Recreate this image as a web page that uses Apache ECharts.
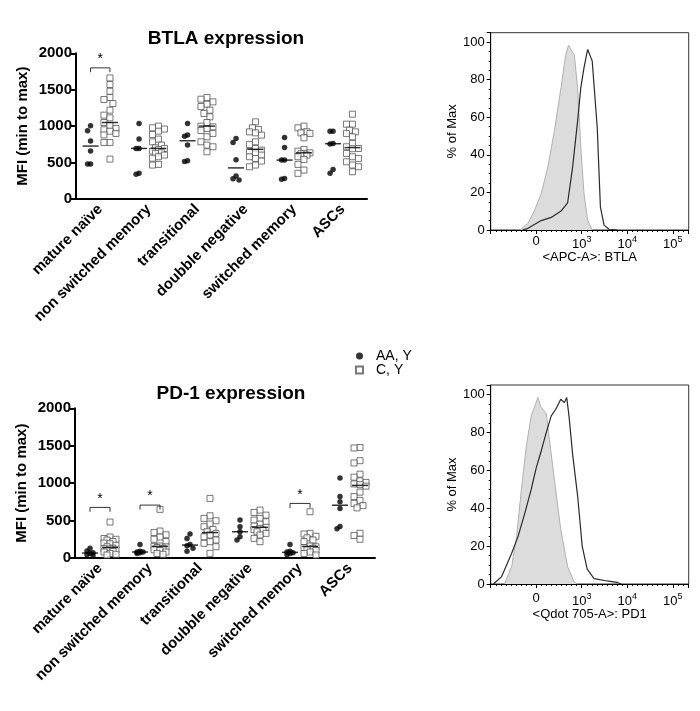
<!DOCTYPE html>
<html lang="en">
<head>
    <meta charset="UTF-8">
    <title>BTLA / PD-1 expression</title>
    <script src="https://cdn.jsdelivr.net/npm/echarts@6/dist/echarts.min.js"></script>
    <style>
        html, body { margin: 0; padding: 0; background: #fff; }
        #main { width: 700px; height: 711px; }
    </style>
</head>
<body>
<div id="main"></div>
<script>
    // categories on both scatter plots
    const categories = ['mature naïve', 'non switched memory', 'transitional', 'doubble negative', 'switched memory', 'ASCs'];

    // BTLA MFI, one list per category
    const btlaAA = [
        [1004, 936, 795, 658, 479, 479],
        [1037, 822, 694, 694, 352, 340],
        [1037, 877, 860, 740, 525, 515],
        [831, 776, 539, 315, 278, 260],
        [845, 708, 534, 534, 283, 270],
        [931, 931, 763, 755, 406, 352]
    ];
    const btlaC = [
        [1662, 1571, 1479, 1393, 1365, 1311, 1219, 1151, 1114, 1050, 1009, 968, 950, 931, 900, 880, 776, 776, 548],
        [1000, 977, 960, 931, 886, 822, 785, 740, 703, 694, 680, 658, 635, 626, 603, 580, 560, 475, 466],
        [1393, 1370, 1333, 1301, 1269, 1219, 1174, 1128, 1050, 1000, 990, 968, 940, 900, 854, 785, 740, 717, 648],
        [1059, 977, 955, 922, 908, 877, 785, 749, 694, 671, 650, 634, 603, 580, 557, 521, 466, 443],
        [1000, 977, 922, 908, 900, 840, 680, 657, 634, 626, 620, 603, 580, 543, 475, 397, 352],
        [1164, 1027, 1027, 945, 922, 900, 854, 763, 717, 694, 690, 626, 580, 557, 511, 466, 443, 374]
    ];

    // PD-1 MFI
    const pd1AA = [
        [130, 95, 70, 62, 45, 30],
        [180, 90, 80, 80, 70, 60],
        [320, 260, 180, 165, 130, 90],
        [507, 418, 351, 284, 240],
        [180, 90, 80, 70, 60, 45],
        [1070, 820, 750, 660, 420, 390]
    ];
    const pd1C = [
        [480, 280, 260, 250, 240, 220, 200, 190, 170, 150, 130, 125, 120, 110, 100, 90, 80, 60, 50, 40],
        [650, 360, 340, 310, 280, 250, 220, 160, 155, 150, 140, 130, 110, 100, 80, 60, 50],
        [796, 564, 529, 498, 453, 418, 382, 351, 329, 307, 284, 240, 218, 196, 151, 62],
        [640, 609, 573, 529, 507, 484, 453, 427, 410, 396, 380, 373, 351, 329, 307, 262, 218],
        [618, 329, 320, 290, 270, 240, 220, 160, 150, 140, 130, 110, 100, 80, 60, 40],
        [1476, 1470, 1300, 1270, 1120, 1080, 1030, 1010, 990, 980, 960, 880, 820, 770, 730, 700, 670, 330, 300, 250]
    ];

    // significance brackets (category index, bracket height)
    const btlaSig = [{cat: 0, y: 1800}];
    const pd1Sig = [{cat: 0, y: 676}, {cat: 1, y: 707}, {cat: 4, y: 729}];

    // histograms: x in decades (0 -> "0", 1 -> 10^3, 2 -> 10^4, 3 -> 10^5), y in % of max
    const histTicks = {0: '0', 1: '10{s|3}', 2: '10{s|4}', 3: '10{s|5}'};
    const btlaIso = [[-0.36, 0], [-0.18, 3.5], [-0.035, 10.6], [0.11, 19.4], [0.255, 33.5], [0.4, 52.9], [0.545, 75.8],
        [0.65, 93.5], [0.71, 98.4], [0.78, 95.2], [0.835, 93.5], [0.91, 75.8], [0.98, 44], [1.05, 19.4], [1.13, 5.3], [1.23, 0]];
    const btlaStain = [[-0.3, 0], [-0.18, 0.9], [0.11, 5], [0.33, 6.7], [0.545, 10.1], [0.69, 14.5], [0.8, 33.5], [0.91, 58.2],
        [0.98, 75.8], [1.05, 86.4], [1.13, 96.1], [1.16, 97], [1.23, 90], [1.34, 54.7], [1.41, 12.3], [1.49, 2.6], [1.6, 0.4], [1.78, 0]];
    const pd1Iso = [[-0.7, 0], [-0.54, 9.2], [-0.43, 25.2], [-0.326, 49.9], [-0.217, 72.8], [-0.11, 88.7], [0.036, 98.4],
        [0.11, 93], [0.22, 90.2], [0.29, 76.2], [0.4, 55], [0.54, 28.6], [0.69, 9.2], [0.83, 1.2], [0.91, 0]];
    const pd1Stain = [[-0.94, 0], [-0.76, 3.9], [-0.65, 10], [-0.54, 16.2], [-0.4, 25], [-0.25, 37.4], [-0.11, 49.9], [0, 61.3],
        [0.11, 70.2], [0.22, 79.9], [0.33, 88.7], [0.43, 92.2], [0.54, 97.5], [0.62, 95.7], [0.67, 98.4], [0.72, 88.7],
        [0.8, 68.4], [0.91, 46.4], [1.01, 20], [1.12, 7.8], [1.27, 2.8], [1.56, 1.6], [1.77, 0.9], [1.87, 0]];

    const FONT = 'Liberation Sans, Arial, sans-serif';

    function median(arr) {
        const s = arr.slice().sort((a, b) => a - b);
        const m = Math.floor(s.length / 2);
        return s.length % 2 ? s[m] : (s[m - 1] + s[m]) / 2;
    }

    // spread overlapping points sideways inside a narrow band, returns [x, y] pairs
    function swarm(groups, side, pxCat, pxVal, size, maxOff) {
        const out = [];
        const cands = [0];
        for (let k = 1; k * 3 <= maxOff; k++) { cands.push(-k * 3, k * 3); }
        groups.forEach((vals, ci) => {
            const placed = [];
            vals.forEach(v => {
                const py = v * pxVal;
                let best = 0, bestGap = -1;
                for (const c of cands) {
                    const gap = placed.reduce((m, p) => Math.min(m, Math.hypot(p[0] - c, p[1] - py)), 1e9);
                    if (gap >= size) { best = c; bestGap = 1e9; break; }
                    if (gap > bestGap) { bestGap = gap; best = c; }
                }
                placed.push([best, py]);
                out.push([ci + side + best / pxCat, v]);
            });
        });
        return out;
    }

    function scatterSeries(aa, c, sig, xi, yi, pxCat, pxVal) {
        const s = [];
        s.push({
            name: 'AA, Y', type: 'scatter', xAxisIndex: xi, yAxisIndex: yi, symbol: 'circle', symbolSize: 5.5,
            itemStyle: {color: '#000'}, data: swarm(aa, -0.2, pxCat, pxVal, 5, 3), z: 3
        });
        s.push({
            name: 'C, Y', type: 'scatter', xAxisIndex: xi, yAxisIndex: yi, symbol: 'rect', symbolSize: 6,
            itemStyle: {color: '#fff', borderColor: '#555', borderWidth: 1}, data: swarm(c, 0.2, pxCat, pxVal, 6, 6), z: 3
        });
        s.push({
            type: 'scatter', xAxisIndex: xi, yAxisIndex: yi, symbol: 'rect', symbolSize: [16, 1.5], silent: true,
            itemStyle: {color: '#000'}, z: 4,
            data: aa.map((v, i) => [i - 0.2, median(v)]).concat(c.map((v, i) => [i + 0.2, median(v)]))
        });
        // brackets with an asterisk on top
        sig.forEach(b => {
            const drop = 60;
            s.push({
                type: 'line', xAxisIndex: xi, yAxisIndex: yi, symbol: 'none', silent: true, z: 6,
                lineStyle: {color: '#333', width: 1},
                data: [[b.cat - 0.2, b.y - drop], [b.cat - 0.2, b.y], [b.cat + 0.2, b.y], [b.cat + 0.2, b.y - drop]],
                markPoint: {
                    silent: true, symbol: 'circle', symbolSize: 1, itemStyle: {color: 'rgba(0,0,0,0)'},
                    label: {show: true, position: 'top', distance: 1, formatter: '*', fontSize: 14, color: '#000', fontFamily: FONT},
                    data: [{coord: [b.cat, b.y]}]
                }
            });
        });
        return s;
    }

    function histSeries(iso, stain, xi, yi) {
        return [{
            type: 'line', xAxisIndex: xi, yAxisIndex: yi, symbol: 'none', silent: true,
            lineStyle: {color: '#b0b0b0', width: 1}, areaStyle: {color: '#dcdcdc', opacity: 1}, data: iso
        }, {
            type: 'line', xAxisIndex: xi, yAxisIndex: yi, symbol: 'none', silent: true,
            lineStyle: {color: '#2a2a2a', width: 1.2}, data: stain
        }];
    }

    function catAxis(gi) {
        return {
            type: 'category', gridIndex: gi, data: categories, boundaryGap: true,
            axisLine: {onZero: false, lineStyle: {color: '#000', width: 2}},
            axisTick: {alignWithLabel: true, length: 5, lineStyle: {width: 2, color: '#000'}},
            axisLabel: {rotate: 45, margin: 8, color: '#000', fontSize: 15, fontWeight: 'bold', fontFamily: FONT}
        };
    }
    function hiddenX(gi) {
        return {type: 'value', gridIndex: gi, min: -0.5, max: 5.5, show: false, axisLine: {onZero: false}};
    }
    function mfiAxis(gi) {
        return {
            type: 'value', gridIndex: gi, min: 0, max: 2000, interval: 500,
            name: 'MFI (min to max)', nameLocation: 'middle', nameGap: 46,
            nameTextStyle: {color: '#000', fontSize: 15, fontWeight: 'bold', fontFamily: FONT},
            splitLine: {show: false},
            axisLine: {show: true, onZero: false, lineStyle: {color: '#000', width: 2}},
            axisTick: {show: true, length: 5, lineStyle: {width: 2, color: '#000'}},
            axisLabel: {margin: 4, color: '#000', fontSize: 15, fontWeight: 'bold', fontFamily: FONT, formatter: v => String(v)}
        };
    }
    function histX(gi, name, gap, margin) {
        return {
            type: 'value', gridIndex: gi, min: -1, max: 3.35, interval: 1,
            name: name, nameLocation: 'middle', nameGap: gap,
            nameTextStyle: {color: '#000', fontSize: 13, fontFamily: FONT},
            splitLine: {show: false},
            axisLine: {onZero: false, lineStyle: {color: '#000', width: 1}},
            axisTick: {length: 4, lineStyle: {color: '#000'}},
            minorTick: {show: true, splitNumber: 9, length: 2, lineStyle: {color: '#000'}},
            axisLabel: {
                margin: margin, color: '#000', fontSize: 13, fontFamily: FONT,
                formatter: v => histTicks[v] || '',
                rich: {s: {fontSize: 9, verticalAlign: 'top', padding: [0, 0, 9, 0], fontFamily: FONT, color: '#000'}}
            }
        };
    }
    function histY(gi) {
        return {
            type: 'value', gridIndex: gi, min: 0, max: 105, interval: 20,
            name: '% of Max', nameLocation: 'middle', nameGap: 30,
            nameTextStyle: {color: '#000', fontSize: 13, fontFamily: FONT},
            splitLine: {show: false},
            axisLine: {show: true, onZero: false, lineStyle: {color: '#000', width: 1}},
            axisTick: {show: true, length: 4, lineStyle: {color: '#000'}},
            minorTick: {show: true, splitNumber: 4, length: 2, lineStyle: {color: '#000'}},
            axisLabel: {margin: 6, color: '#000', fontSize: 13, fontFamily: FONT, formatter: v => (v % 20 === 0 ? v : '')}
        };
    }

    const option = {
        animation: false,
        backgroundColor: '#fff',
        title: [
            {text: 'BTLA expression', left: 221, top: 24, textAlign: 'center',
                textStyle: {fontSize: 19, fontWeight: 'bold', color: '#000', fontFamily: FONT}},
            {text: 'PD-1 expression', left: 226, top: 379, textAlign: 'center',
                textStyle: {fontSize: 19, fontWeight: 'bold', color: '#000', fontFamily: FONT}}
        ],
        legend: {
            data: [{name: 'AA, Y', icon: 'circle'}, {name: 'C, Y', icon: 'rect'}],
            orient: 'vertical', left: 355, top: 349, itemWidth: 7, itemHeight: 7, itemGap: 0,
            padding: 0, selectedMode: false,
            textStyle: {color: '#000', fontSize: 14, fontFamily: FONT, padding: [0, 0, 0, 8]}
        },
        grid: [
            {left: 76, top: 53.3, width: 291, height: 145.7},
            {left: 75, top: 408.3, width: 300, height: 149.7},
            {left: 490.7, top: 32.7, width: 198, height: 197.3, show: true, borderColor: '#333', borderWidth: 1},
            {left: 490.7, top: 385, width: 198, height: 199, show: true, borderColor: '#333', borderWidth: 1}
        ],
        xAxis: [catAxis(0), hiddenX(0), catAxis(1), hiddenX(1),
            histX(2, '<APC-A>: BTLA', 16, 5), histX(3, '<Qdot 705-A>: PD1', 24, 8)],
        yAxis: [mfiAxis(0), mfiAxis(1), histY(2), histY(3)],
        series: [].concat(
            scatterSeries(btlaAA, btlaC, btlaSig, 1, 0, 48.5, 0.073),
            scatterSeries(pd1AA, pd1C, pd1Sig, 3, 1, 50, 0.075),
            histSeries(btlaIso, btlaStain, 4, 2),
            histSeries(pd1Iso, pd1Stain, 5, 3)
        )
    };

    const chart = echarts.init(document.getElementById('main'), null, {renderer: 'canvas'});
    chart.setOption(option);
</script>
</body>
</html>
